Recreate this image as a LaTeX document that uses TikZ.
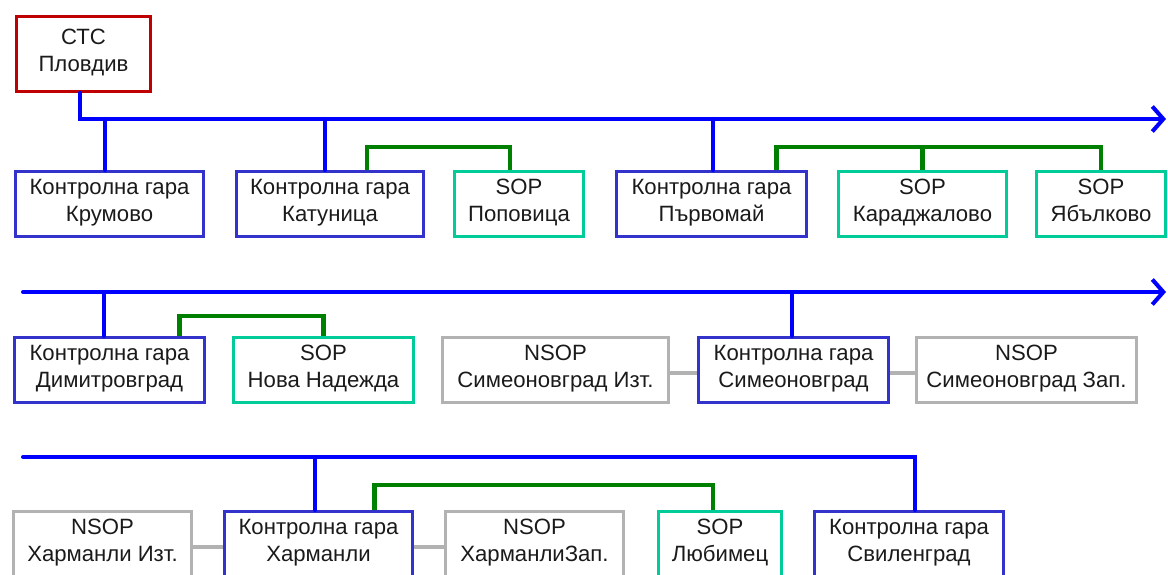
\documentclass[tikz,border=0pt]{standalone}
\usepackage{fontspec}
\setmainfont{Liberation Sans}
\usetikzlibrary{arrows.meta,calc}
\definecolor{ctcred}{RGB}{192,0,0}
\definecolor{kgblue}{RGB}{51,51,204}
\definecolor{sopteal}{RGB}{0,204,153}
\definecolor{nsopgray}{RGB}{178,178,178}
\definecolor{busblue}{RGB}{0,0,255}
\definecolor{sopgreen}{RGB}{0,128,0}
\definecolor{textdark}{RGB}{26,26,26}

\begin{document}
\begin{tikzpicture}[x=0.02cm, y=-0.02cm,
  font=\fontsize{12.6}{15.3}\selectfont,
  >={Straight Barb[length=0.22cm,width=0.5cm]},
  box/.style={draw, line width=1.9pt, text=textdark, align=center,
    inner sep=0pt, minimum height=1.29cm, minimum width=#1,
    execute at begin node={\rule{0pt}{13pt}}, execute at end node=\strut},
  ctcbox/.style={box=#1, draw=ctcred, minimum height=1.49cm},
  kgbox/.style={box=#1, draw=kgblue},
  sopbox/.style={box=#1, draw=sopteal},
  nsopbox/.style={box=#1, draw=nsopgray},
  bus/.style={draw=busblue, line width=2.3pt, line cap=round},
  soplink/.style={draw=sopgreen, line width=2.3pt},
  nsoplink/.style={draw=nsopgray, line width=2pt}]
  \useasboundingbox (0,0) rectangle (1168,574);

  %% Row 0: CTC
  \node[ctcbox=2.67cm] (ctc) at (83.5,54) {СТС\\Пловдив};

  %% Row 1
  \node[kgbox=3.75cm]   (krumovo)      at (109.5,204) {Контролна гара\\Крумово};
  \node[kgbox=3.73cm]   (katunica)     at (330,204)   {Контролна гара\\Катуница};
  \node[sopbox=2.57cm]  (popovica)     at (519,204)   {SOP\\Поповица};
  \node[kgbox=3.79cm]   (parvomaj)     at (711.5,204) {Контролна гара\\Първомай};
  \node[sopbox=3.35cm]  (karadzhalovo) at (922.5,204) {SOP\\Караджалово};
  \node[sopbox=2.57cm]  (yabalkovo)    at (1101,204)  {SOP\\Ябълково};

  %% Row 2
  \node[kgbox=3.79cm]   (dimitrovgrad) at (109.5,370) {Контролна гара\\Димитровград};
  \node[sopbox=3.59cm]  (novanadezhda) at (323.5,370) {SOP\\Нова Надежда};
  \node[nsopbox=4.51cm] (simiz)        at (555.5,370) {NSOP\\Симеоновград Изт.};
  \node[kgbox=3.79cm]   (simeonovgrad) at (793.5,370) {Контролна гара\\Симеоновград};
  \node[nsopbox=4.39cm] (simzap)       at (1026.5,370) {NSOP\\Симеоновград Зап.};

  %% Row 3
  \node[nsopbox=3.55cm] (harmiz)       at (102.5,544) {NSOP\\Харманли Изт.};
  \node[kgbox=3.75cm]   (harmanli)     at (318.5,544) {Контролна гара\\Харманли};
  \node[nsopbox=3.55cm] (harmzap)      at (534.5,544) {NSOP\\ХарманлиЗап.};
  \node[sopbox=2.45cm]  (lyubimets)    at (720,544)   {SOP\\Любимец};
  \node[kgbox=3.77cm]   (svilengrad)   at (909,544)   {Контролна гара\\Свиленград};

  %% Blue lines
  \coordinate (bus1end)   at (1166,119);
  \coordinate (bus2start) at (23,292);
  \coordinate (bus2end)   at (1166,292);
  \coordinate (bus3start) at (23,457);
  \draw[bus,->] ($(ctc.south)+(-3.5,0)$) |- (bus1end);
  \foreach \n/\dx in {krumovo/-4.5,katunica/-5,parvomaj/1.5}
    \draw[bus] ($(\n.north)+(\dx,0)$) -- ($(\n.north |- bus1end)+(\dx,0)$);
  \draw[bus,->] (bus2start) -- (bus2end);
  \foreach \n/\dx in {dimitrovgrad/-5.5,simeonovgrad/-1.5}
    \draw[bus] ($(\n.north)+(\dx,0)$) -- ($(\n.north |- bus2end)+(\dx,0)$);
  \draw[bus] (bus3start) -| ($(svilengrad.north)+(6,0)$);
  \draw[bus] ($(harmanli.north)+(-3.5,0)$) -- ($(harmanli.north |- bus3start)+(-3.5,0)$);

  %% Green SOP links
  \draw[soplink] ($(katunica.north)+(37,0)$) -- ++(0,-23) -| ($(popovica.north)+(-9,0)$);
  \draw[soplink] ($(parvomaj.north)+(65,0)$) -- ++(0,-23) -| (yabalkovo.north);
  \draw[soplink] (karadzhalovo.north) -- ++(0,-23);
  \draw[soplink] ($(dimitrovgrad.north)+(70,0)$) -- ++(0,-20) -| (novanadezhda.north);
  \draw[soplink] ($(harmanli.north)+(56,0)$) -- ++(0,-25) -| ($(lyubimets.north)+(-7,0)$);

  %% Gray NSOP links
  \draw[nsoplink] ($(simiz.east)+(0,3)$) -- ($(simeonovgrad.west)+(0,3)$);
  \draw[nsoplink] ($(simeonovgrad.east)+(0,3)$) -- ($(simzap.west)+(0,3)$);
  \draw[nsoplink] ($(harmiz.east)+(0,3)$) -- ($(harmanli.west)+(0,3)$);
  \draw[nsoplink] ($(harmanli.east)+(0,3)$) -- ($(harmzap.west)+(0,3)$);
\end{tikzpicture}
\end{document}
